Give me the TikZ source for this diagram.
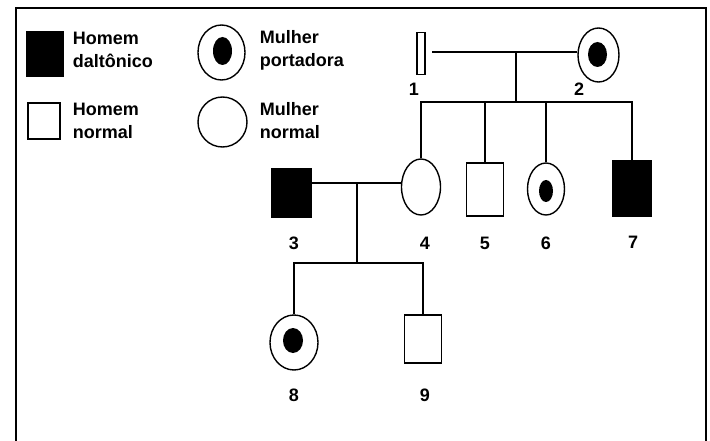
\documentclass[tikz,border=0pt]{standalone}
\usepackage{fontspec}
\setmainfont{Liberation Sans}
\usepackage{tikz}
\usetikzlibrary{positioning}
\usetikzlibrary{shapes.geometric}

\begin{document}
\begin{tikzpicture}[x=1pt,y=-1pt,line width=1.8pt,inner sep=0pt,
	font=\bfseries\fontsize{18}{23}\selectfont,
	homem/.style={rectangle,draw,fill=white,line width=1.5pt},
	daltonico/.style={rectangle,draw,fill=black},
	mulher/.style={ellipse,draw,line width=1.4pt},
	portadora/.style={ellipse,fill=black},
	rotulo/.style={anchor=center},
	legenda/.style={anchor=west,align=left}]
	\useasboundingbox (0,0) rectangle (710,441);
	\draw (16,445) -- (16,8) -- (706,8) -- (706,445);
	% legenda
	\node[daltonico,minimum width=36pt,minimum height=44pt] (legDalt) at (45,54) {};
	\node[homem,minimum width=32pt,minimum height=36pt] (legHomem) at (44,121) {};
	\node[mulher,minimum width=47pt,minimum height=55pt] (legPort) at (221.5,52.5) {};
	\node[portadora,minimum width=19pt,minimum height=28pt] (legPortDot) at (222.5,51) {};
	\node[mulher,minimum width=49pt,minimum height=50pt] (legMulher) at (222.5,122) {};
	\node[legenda] (txtDalt) at (72,50) {Homem\\daltônico};
	\node[legenda] (txtHomem) at (72,121) {Homem\\normal};
	\node[legenda] (txtPort) at (259,50) {Mulher\\portadora};
	\node[legenda] (txtMulher) at (259,121) {Mulher\\normal};
	% geracao I
	\node[homem,line width=1.3pt,minimum width=8pt,minimum height=42pt] (1) at (421,53.5) {};
	\node[mulher,minimum width=41pt,minimum height=54pt] (2) at (598.5,55) {};
	\node[portadora,minimum width=19pt,minimum height=25pt] (2dot) at (597.5,54.5) {};
	% geracao II
	\node[daltonico,minimum width=39pt,minimum height=48pt] (3) at (291.5,193) {};
	\node[mulher,minimum width=39pt,minimum height=56pt] (4) at (421,187) {};
	\node[homem,minimum width=37pt,minimum height=53pt] (5) at (485,189.5) {};
	\node[mulher,minimum width=37pt,minimum height=52pt] (6) at (546,189) {};
	\node[portadora,minimum width=14pt,minimum height=22pt] (6dot) at (546,191) {};
	\node[daltonico,minimum width=38pt,minimum height=55pt] (7) at (632,188.5) {};
	% geracao III
	\node[mulher,minimum width=48pt,minimum height=55pt] (8) at (294,342.5) {};
	\node[portadora,minimum width=20pt,minimum height=25pt] (8dot) at (293,340.5) {};
	\node[homem,minimum width=37pt,minimum height=48pt] (9) at (423,339) {};
	% numeros
	\node[rotulo] (l1) at (414,89) {1};
	\node[rotulo] (l2) at (579,89) {2};
	\node[rotulo] (l3) at (294,243) {3};
	\node[rotulo] (l4) at (425,243) {4};
	\node[rotulo] (l5) at (485,243) {5};
	\node[rotulo] (l6) at (546,243) {6};
	\node[rotulo] (l7) at (633,242) {7};
	\node[rotulo] (l8) at (294,395) {8};
	\node[rotulo] (l9) at (425,395) {9};
	% linhas
	\coordinate (c12) at (432,52);
	\coordinate (m12) at (516,52);
	\coordinate (f12) at (516,102);
	\coordinate (m34) at (357,183);
	\coordinate (f34) at (357,263);
	\draw (c12) -- (2.west |- c12);
	\draw (m12) -- (f12);
	\draw (4.north) |- (7.north |- f12) -- (7.north);
	\draw (5.north) -- (5.north |- f12);
	\draw (6.north) -- (6.north |- f12);
	\draw (3.east |- m34) -- (4.west |- m34);
	\draw (m34) -- (f34);
	\draw (8.north) |- (9.north |- f34) -- (9.north);
\end{tikzpicture}
\end{document}
